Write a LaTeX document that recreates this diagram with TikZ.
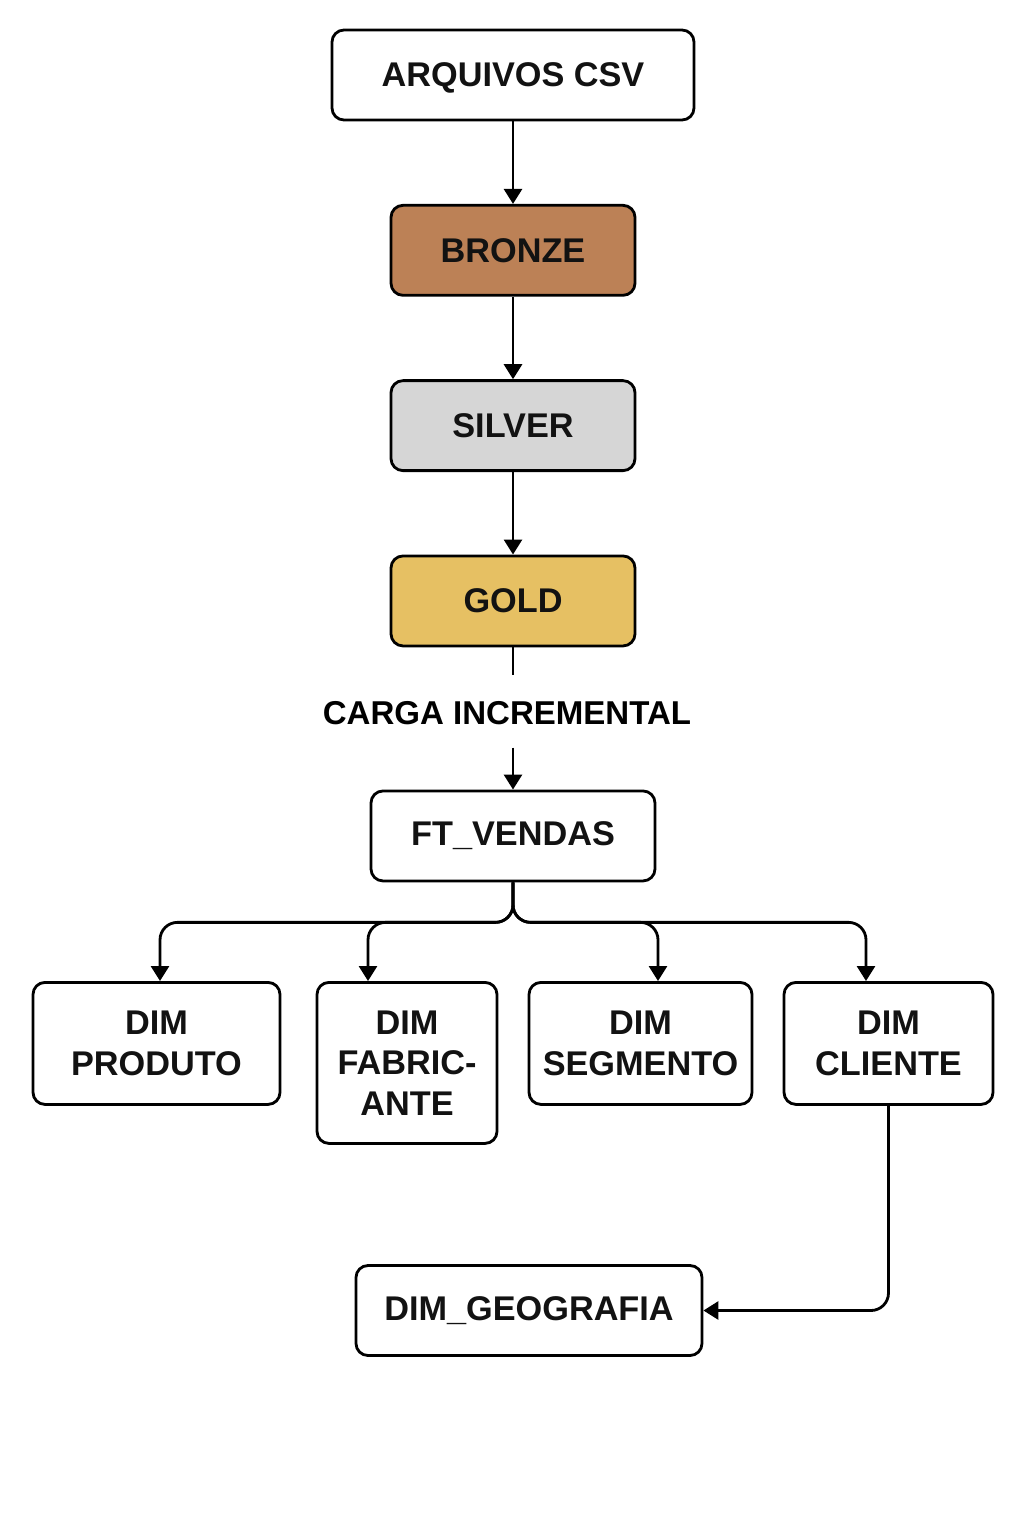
\documentclass[tikz,border=0pt]{standalone}
\usepackage{fontspec}
\setmainfont{Liberation Sans}
\usetikzlibrary{arrows.meta,positioning}

\definecolor{bronze}{HTML}{BC8156}
\definecolor{silver}{HTML}{D6D6D6}
\definecolor{gold}{HTML}{E6C063}

\tikzset{
  box/.style={draw, line width=1.6pt, rounded corners=0.24cm, minimum height=1.8cm,
    align=center, text=black!93, font=\fontsize{19.5}{23}\selectfont\bfseries},
  dimbox/.style={box, minimum height=2.44cm, anchor=north},
  flow/.style={->, line width=1.6pt, rounded corners=0.35cm}
}

\begin{document}
\begin{tikzpicture}[>={Triangle[length=0.3cm,width=0.36cm]}, node distance=1.65cm]
\useasboundingbox (0,0) rectangle (20.52,-30.76);
\node[box, minimum width=7.24cm, text depth=0pt] (csv) at (10.26,-1.5) {ARQUIVOS CSV};
\node[box, minimum width=4.88cm, fill=bronze, below=of csv] (bronze) {BRONZE};
\node[box, minimum width=4.88cm, fill=silver, below=of bronze] (silver) {SILVER};
\node[box, minimum width=4.88cm, fill=gold, below=of silver] (gold) {GOLD};
\node[font=\fontsize{18.8}{23}\selectfont\bfseries, text height=0.54cm, text depth=0pt,
  inner ysep=0.45cm, below=0.55cm of gold, xshift=-0.12cm] (carga) {CARGA INCREMENTAL};
\node[box, minimum width=5.68cm, below=0.84cm of carga, xshift=0.12cm] (ft) {FT\_VENDAS};
\node[dimbox, minimum width=4.94cm] (prod) at (3.13,-19.62) {DIM\\PRODUTO};
\node[dimbox, minimum width=3.6cm, minimum height=3.22cm] (fab) at (8.14,-19.62) {DIM\\FABRIC-\\ANTE};
\node[dimbox, minimum width=4.46cm] (seg) at (12.81,-19.62) {DIM\\SEGMENTO};
\node[dimbox, minimum width=4.18cm] (cli) at (17.77,-19.62) {DIM\\CLIENTE};
\node[box, minimum width=6.92cm] (geo) at (10.58,-26.21) {DIM\_GEOGRAFIA};
\draw[flow] (csv) -- (bronze);
\draw[flow] (bronze) -- (silver);
\draw[flow] (silver) -- (gold);
\draw[line width=1.6pt] (gold.south) -- (gold.south |- carga.north);
\draw[flow] (ft.north |- carga.south) -- (ft.north);
% ramos da fato para as dimensoes
\draw[flow] (ft.south) -- ++(0,-0.8) -| ([xshift=0.07cm]prod.north);
\draw[flow] (ft.south) -- ++(0,-0.8) -| ([xshift=-0.78cm]fab.north);
\draw[flow] (ft.south) -- ++(0,-0.8) -| ([xshift=0.35cm]seg.north);
\draw[flow] (ft.south) -- ++(0,-0.8) -| ([xshift=-0.45cm]cli.north);
\draw[flow] (cli.south) |- (geo.east);
\end{tikzpicture}
\end{document}
